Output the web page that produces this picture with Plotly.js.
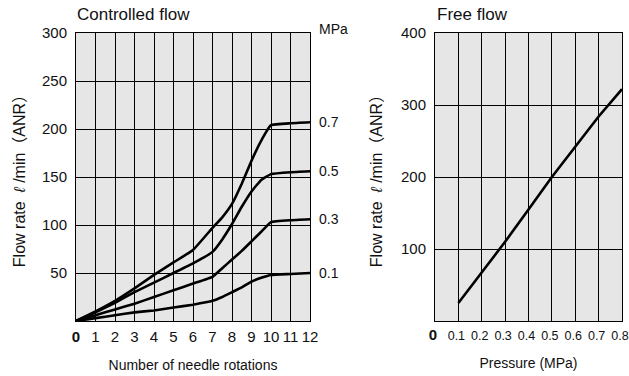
<!DOCTYPE html>
<html>
<head>
<meta charset="utf-8">
<script src="https://cdn.plot.ly/plotly-3.0.1.min.js"></script>
<style>
  html, body { margin: 0; padding: 0; background: #ffffff; }
  #chart { width: 629px; height: 376px; }
</style>
</head>
<body>
<div id="chart"></div>
<script>
// ---- Controlled flow (left) ----
const rotations = [0, 1, 2, 3, 4, 5, 6, 7, 7.5, 8, 8.5, 9, 9.5, 10, 11, 12];
const flow07 = [0, 10, 21, 34, 48, 61, 74, 97, 108, 122, 143, 167, 188, 204, 206, 207];
const flow05 = [0, 9, 19, 30, 40, 50, 60, 72, 85, 101, 119, 135, 147, 153, 155, 156];
const flow03 = [0, 6, 12, 18, 25, 32, 39, 46, 55, 64, 73, 83, 93, 103, 105, 106];
const flow01 = [0, 3, 6, 9, 11, 14, 17, 21, 25, 30, 35, 41, 45, 48, 49, 50];
const pressureLabels = ["0.7", "0.5", "0.3", "0.1"];
const leftXTicks = [0,1,2,3,4,5,6,7,8,9,10,11,12];
const leftYTicks = [50, 100, 150, 200, 250, 300];

// ---- Free flow (right) ----
const pressure = [0.1, 0.2, 0.3, 0.4, 0.5, 0.6, 0.7, 0.8];
const freeFlow = [25, 67, 110, 155, 200, 242, 284, 322];
const rightXTicks = [0, 0.1, 0.2, 0.3, 0.4, 0.5, 0.6, 0.7, 0.8];
const rightXText = ["<span style='font-size:15px'><b>0</b></span>", "0.1", "0.2", "0.3", "0.4", "0.5", "0.6", "0.7", "0.8"];
const rightYTicks = [100, 200, 300, 400];

const FONT = "Liberation Sans, Arial, Noto Sans CJK JP, sans-serif";
const lineStyle = {color: "#000000", width: 2.6, shape: "spline", smoothing: 0.3};

const series = [flow07, flow05, flow03, flow01];
const traces = series.map(v => ({
  x: rotations, y: v, xaxis: "x", yaxis: "y", mode: "lines",
  line: lineStyle, hoverinfo: "skip", showlegend: false
}));
traces.push({
  x: pressure, y: freeFlow, xaxis: "x2", yaxis: "y2", mode: "lines",
  line: {color: "#000000", width: 2.6}, hoverinfo: "skip", showlegend: false
});

const yDom = [1 - 321/376, 1 - 33/376];
const gridCommon = {
  showgrid: true, gridcolor: "#000000", gridwidth: 1,
  showline: true, linecolor: "#000000", linewidth: 1, mirror: true,
  zeroline: false, ticks: "", ticklabeloverflow: "allow",
  tickfont: {family: FONT, size: 15, color: "#111"}
};

const annotations = pressureLabels.map((t, i) => ({
  text: t, xref: "paper", yref: "y", x: 317/629, y: series[i][series[i].length - 1],
  xanchor: "left", yanchor: "middle", showarrow: false,
  font: {family: FONT, size: 14, color: "#111"}
}));
annotations.push({text: "MPa", xref: "paper", yref: "paper", x: 317/629, y: 1 - 29/376,
  xanchor: "left", yanchor: "middle", showarrow: false, font: {family: FONT, size: 14, color: "#111"}});
annotations.push({text: "Controlled flow", xref: "paper", yref: "paper", x: 75/629, y: 1 - 15/376,
  xanchor: "left", yanchor: "middle", showarrow: false, font: {family: FONT, size: 17, color: "#111"}});
annotations.push({text: "Free flow", xref: "paper", yref: "paper", x: 435/629, y: 1 - 15/376,
  xanchor: "left", yanchor: "middle", showarrow: false, font: {family: FONT, size: 17, color: "#111"}});

const yTitle = "Flow rate  <i>ℓ</i> /min（ANR）";

const layout = {
  width: 629, height: 376,
  margin: {l: 0, r: 0, t: 0, b: 0},
  paper_bgcolor: "#ffffff", plot_bgcolor: "#e6e6e6",
  showlegend: false,
  xaxis: Object.assign({}, gridCommon, {
    domain: [76/629, 310/629], range: [0, 12], tickvals: leftXTicks,
    ticktext: leftXTicks.map(v => v === 0 ? "<b>0</b>" : String(v)),
    anchor: "y", ticklabelstandoff: 2,
    title: {text: "Number of needle rotations", font: {family: FONT, size: 14, color: "#111"}, standoff: 16}
  }),
  yaxis: Object.assign({}, gridCommon, {
    domain: yDom, range: [0, 300], tickvals: leftYTicks, anchor: "x",
    ticklabelstandoff: 5,
    title: {text: yTitle, font: {family: FONT, size: 16, color: "#111"}, standoff: 12}
  }),
  xaxis2: Object.assign({}, gridCommon, {
    domain: [435/629, 622/629], range: [0, 0.8], tickvals: rightXTicks, ticktext: rightXText,
    anchor: "y2", ticklabelstandoff: 3, ticklabelshift: -2,
    tickfont: {family: FONT, size: 12.5, color: "#111"},
    title: {text: "Pressure (MPa)", font: {family: FONT, size: 14, color: "#111"}, standoff: 16}
  }),
  yaxis2: Object.assign({}, gridCommon, {
    domain: yDom, range: [0, 400], tickvals: rightYTicks, anchor: "x2",
    ticklabelstandoff: 5,
    title: {text: yTitle, font: {family: FONT, size: 16, color: "#111"}, standoff: 14}
  }),
  annotations: annotations
};

Plotly.newPlot("chart", traces, layout, {staticPlot: true, displayModeBar: false});
</script>
</body>
</html>
